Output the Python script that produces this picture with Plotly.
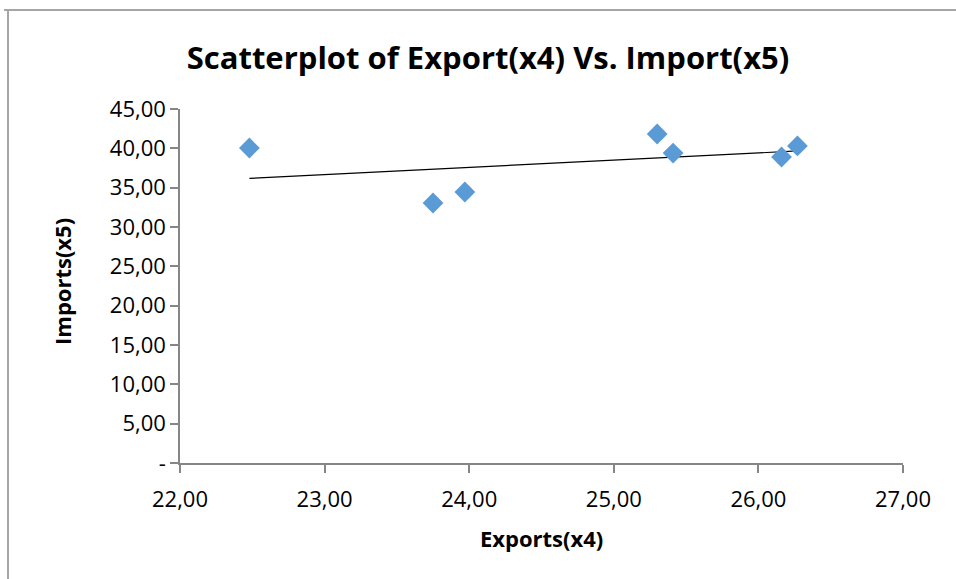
import numpy as np
import plotly.graph_objects as go

# Export (x4) and import (x5) values
exports_x4 = [22.48, 23.75, 23.97, 25.30, 25.41, 26.16, 26.27]
imports_x5 = [40.04, 33.05, 34.45, 41.82, 39.40, 38.90, 40.30]

x_ticks = [22, 23, 24, 25, 26, 27]
x_tick_text = ["22,00", "23,00", "24,00", "25,00", "26,00", "27,00"]
y_ticks = [0, 5, 10, 15, 20, 25, 30, 35, 40, 45]
y_tick_text = ["-", "5,00", "10,00", "15,00", "20,00", "25,00", "30,00", "35,00", "40,00", "45,00"]

W, H = 956, 579
ML, MR, MT, MB = 180, 53, 109, 116
PW, PH = W - ML - MR, H - MT - MB

FONT = "Open Sans"
AXIS_GREY = "#868686"

# Least-squares linear trend line over the range of the data
slope, intercept = np.polyfit(exports_x4, imports_x5, 1)
trend_x = [min(exports_x4), max(exports_x4)]
trend_y = [slope * v + intercept for v in trend_x]

fig = go.Figure()
fig.add_trace(go.Scatter(
    x=trend_x, y=trend_y, mode="lines",
    line=dict(color="black", width=1.2),
    showlegend=False, hoverinfo="skip",
))
fig.add_trace(go.Scatter(
    x=exports_x4, y=imports_x5, mode="markers",
    marker=dict(symbol="diamond", size=16, color="#5B9BD5", line=dict(width=0)),
    showlegend=False,
))


def px_x(px):
    return (px - ML) / PW


def px_y(py):
    return (H - MB - py) / PH


# Outer chart frame (top and left edges)
frame = dict(type="line", xref="paper", yref="paper", line=dict(color="#A6A6A6", width=2))
fig.add_shape(**frame, x0=px_x(4), x1=px_x(W + 5), y0=px_y(10), y1=px_y(10))
fig.add_shape(**frame, x0=px_x(8), x1=px_x(8), y0=px_y(10), y1=px_y(H + 5))

# Axis titles
fig.add_annotation(
    text="<b>Exports(x4)</b>", xref="paper", yref="paper",
    x=px_x(541), y=px_y(538), xanchor="center", yanchor="middle",
    showarrow=False, font=dict(family=FONT, size=22, color="black"),
)
fig.add_annotation(
    text="<b>Imports(x5)</b>", xref="paper", yref="paper",
    x=px_x(62), y=px_y(282), xanchor="center", yanchor="middle",
    textangle=-90, showarrow=False, font=dict(family=FONT, size=22, color="black"),
)

fig.update_layout(
    width=W, height=H,
    margin=dict(l=ML, r=MR, t=MT, b=MB),
    paper_bgcolor="white", plot_bgcolor="white",
    font=dict(family=FONT, color="black"),
    title=dict(
        text="<b>Scatterplot of Export(x4) Vs. Import(x5)</b>",
        font=dict(family=FONT, size=31, color="black"),
        x=488 / W, xanchor="center", xref="container",
        y=1 - 58 / H, yanchor="middle", yref="container",
    ),
    xaxis=dict(
        range=[22, 27], tickvals=x_ticks, ticktext=x_tick_text,
        showgrid=False, zeroline=False,
        showline=True, linecolor=AXIS_GREY, linewidth=1.5,
        ticks="outside", ticklen=8, tickcolor=AXIS_GREY, tickwidth=1.5,
        tickfont=dict(family=FONT, size=22, color="black"),
        ticklabelstandoff=8,
    ),
    yaxis=dict(
        range=[0, 45], tickvals=y_ticks, ticktext=y_tick_text,
        showgrid=False, zeroline=False,
        showline=True, linecolor=AXIS_GREY, linewidth=1.5,
        ticks="outside", ticklen=8, tickcolor=AXIS_GREY, tickwidth=1.5,
        tickfont=dict(family=FONT, size=22, color="black"),
    ),
)

fig.write_html("out.html")
